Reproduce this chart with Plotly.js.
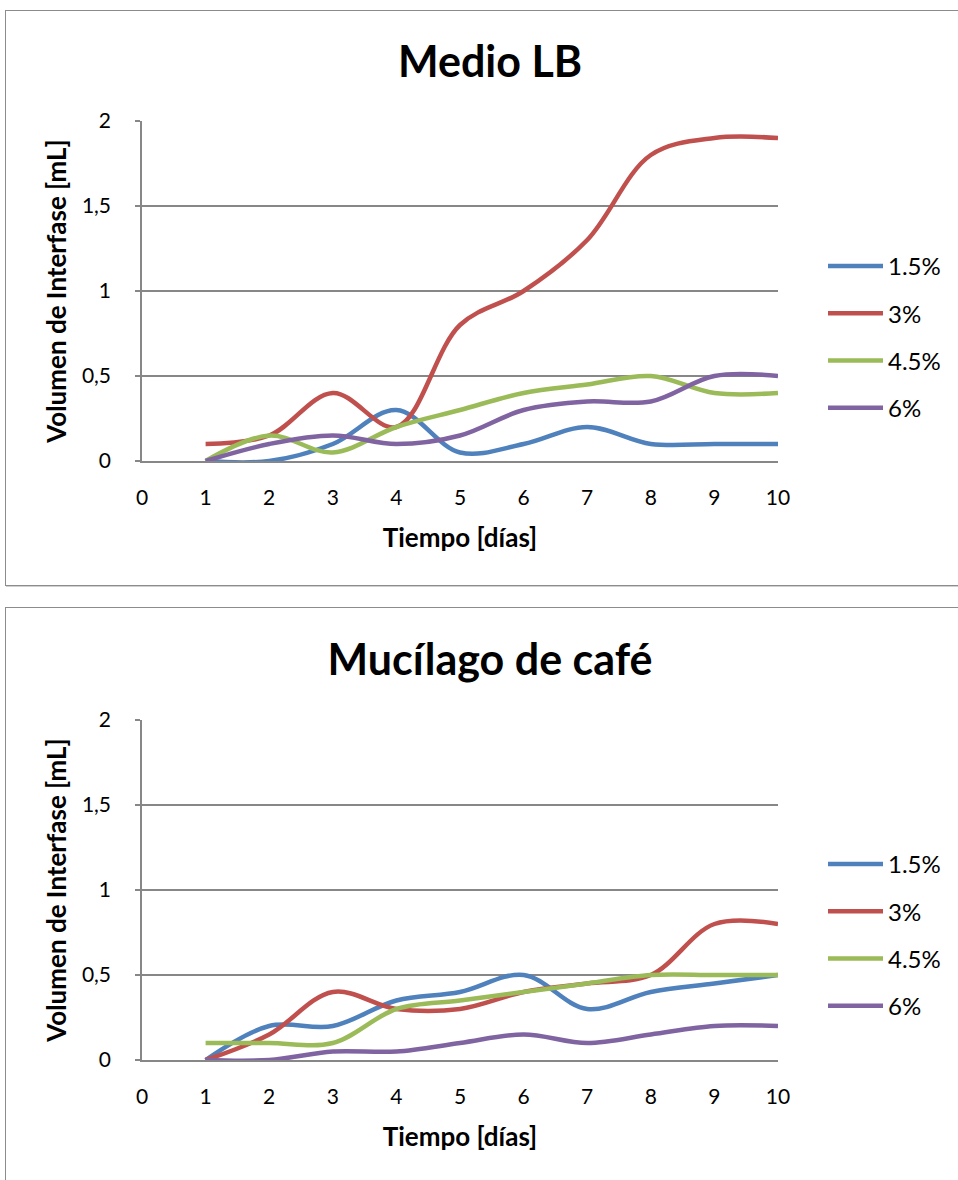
<!DOCTYPE html>
<html>
<head>
<meta charset="utf-8">
<script src="https://cdn.plot.ly/plotly-3.0.1.min.js"></script>
<style>
  html, body { margin: 0; padding: 0; background: #fff; }
  body { width: 958px; height: 1180px; position: relative; overflow: hidden; }
  .chart { position: absolute; left: 0; width: 958px; }
  .frame { position: absolute; border: 1.5px solid #8c8c8c; pointer-events: none; box-shadow: 1px 1px 0 #d0d0d0; }
</style>
</head>
<body>
<div id="c1" class="chart" style="top:0px;height:595px;"></div>
<div id="c2" class="chart" style="top:598px;height:582px;"></div>
<div class="frame" style="left:5px;top:10px;width:970px;height:574px;"></div>
<div class="frame" style="left:5px;top:607px;width:970px;height:600px;"></div>
<script>
// ---- data ----
const days = [1, 2, 3, 4, 5, 6, 7, 8, 9, 10];
const seriesNames = ['1.5%', '3%', '4.5%', '6%'];
const seriesColors = ['#4F81BD', '#C0504D', '#9BBB59', '#8064A2'];

// Medio LB
const lb_15 = [0, 0, 0.1, 0.3, 0.05, 0.1, 0.2, 0.1, 0.1, 0.1];
const lb_3  = [0.1, 0.15, 0.4, 0.2, 0.8, 1.0, 1.3, 1.8, 1.9, 1.9];
const lb_45 = [0, 0.15, 0.05, 0.2, 0.3, 0.4, 0.45, 0.5, 0.4, 0.4];
const lb_6  = [0, 0.1, 0.15, 0.1, 0.15, 0.3, 0.35, 0.35, 0.5, 0.5];

// Mucílago de café
const mc_15 = [0, 0.2, 0.2, 0.35, 0.4, 0.5, 0.3, 0.4, 0.45, 0.5];
const mc_3  = [0, 0.15, 0.4, 0.3, 0.3, 0.4, 0.45, 0.5, 0.8, 0.8];
const mc_45 = [0.1, 0.1, 0.1, 0.3, 0.35, 0.4, 0.45, 0.5, 0.5, 0.5];
const mc_6  = [0, 0, 0.05, 0.05, 0.1, 0.15, 0.1, 0.15, 0.2, 0.2];

const xTicks = [0, 1, 2, 3, 4, 5, 6, 7, 8, 9, 10];
const yTicks = [0, 0.5, 1, 1.5, 2];
const yTickText = ['0', '0,5', '1', '1,5', '2'];

const FONT = 'Lato, "Open Sans", "DejaVu Sans", sans-serif';
const GRID = '#878787';

function makeChart(id, title, seriesList, h, top) {
  const traces = seriesList.map((ys, i) => ({
    x: days, y: ys, type: 'scatter', mode: 'lines', name: seriesNames[i],
    line: { color: seriesColors[i], width: 4.5, shape: 'spline', smoothing: 1 },
    legendgroup: 'g' + i, hoverinfo: 'x+y'
  }));
  const plotTop = top;         // px from div top to y=2
  const plotH = 340;
  const layout = {
    width: 958, height: h,
    margin: { l: 142, r: 180, t: plotTop, b: h - plotTop - plotH, pad: 0 },
    paper_bgcolor: 'rgba(0,0,0,0)', plot_bgcolor: 'rgba(0,0,0,0)',
    font: { family: FONT, color: '#000' },
    title: {
      text: '<b>' + title + '</b>', font: { family: FONT, size: 43, color: '#000' },
      xref: 'container', yref: 'container', x: 490 / 958, xanchor: 'center',
      y: 1 - 62 / h, yanchor: 'middle'
    },
    showlegend: true,
    legend: {
      xref: 'container', yref: 'container', x: 823 / 958, xanchor: 'left',
      y: 1 - 244 / h, yanchor: 'top', font: { family: FONT, size: 24, color: '#000' },
      itemwidth: 55, tracegroupgap: 13, bgcolor: 'rgba(0,0,0,0)', borderwidth: 0
    },
    xaxis: {
      range: [0, 10], tickvals: xTicks, ticktext: xTicks.map(String),
      showgrid: false, zeroline: false, showline: true, linecolor: GRID, linewidth: 1.5, ticks: '',
      tickfont: { family: FONT, size: 21, color: '#000' }, ticklabelstandoff: 17,
      title: { text: '<b>Tiempo [días]</b>', font: { family: FONT, size: 26, color: '#000' }, standoff: 21 },
      fixedrange: true
    },
    yaxis: {
      range: [0, 2], tickvals: yTicks, ticktext: yTickText,
      showgrid: true, gridcolor: GRID, gridwidth: 1.5, zeroline: false,
      showline: true, linecolor: GRID, linewidth: 1.5,
      ticks: 'outside', ticklen: 5, tickcolor: GRID, tickwidth: 1.5,
      tickfont: { family: FONT, size: 21, color: '#000' }, ticklabelstandoff: 20,
      title: { text: '<b>Volumen de Interfase [mL]</b>', font: { family: FONT, size: 26, color: '#000' }, standoff: 8 },
      fixedrange: true
    }
  };
  Plotly.newPlot(id, traces, layout, { displayModeBar: false });
}

makeChart('c1', 'Medio LB', [lb_15, lb_3, lb_45, lb_6], 595, 121);
makeChart('c2', 'Mucílago de café', [mc_15, mc_3, mc_45, mc_6], 582, 122);
</script>
</body>
</html>
